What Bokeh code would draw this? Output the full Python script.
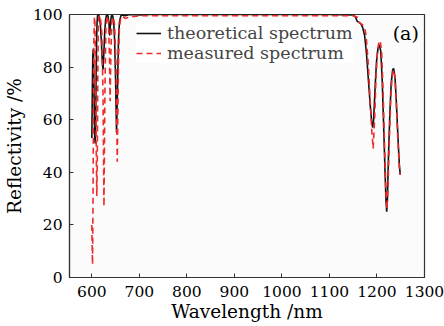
from bokeh.plotting import figure
from bokeh.models import ColumnDataSource, Label, Legend, LegendItem, Range1d
from bokeh.embed import file_html
from bokeh.resources import INLINE

# ---- data ----
theo_wl = [600, 601, 602, 603, 604, 605, 606, 607, 608, 609, 610, 611, 612, 614,
           616, 618, 620, 622, 623.5, 625, 627, 629, 631, 634, 636, 637.5, 639,
           641, 644, 646, 648, 650, 652, 654, 656, 658, 661, 665, 670, 680, 700,
           720, 800, 900, 1000, 1100, 1150, 1155, 1158, 1162, 1166, 1170, 1174,
           1178, 1182, 1186, 1189, 1191, 1193, 1196, 1199, 1202, 1205, 1208, 1211,
           1214, 1217, 1219, 1220.5, 1222, 1224, 1227, 1230, 1233, 1235, 1238,
           1241, 1244, 1247, 1249]
theo_r = [53, 70, 84, 87, 80, 65, 54, 51, 58, 75, 90, 97, 99.5, 100,
          99, 96, 90, 82, 79, 84, 93, 98, 99.8, 99.5, 97, 92, 96,
          99.5, 99.5, 97, 90, 75, 55, 72, 90, 97, 99.5, 99.8, 99.5, 100, 99.8,
          100, 100, 100, 100, 100, 99.8, 99, 97.5, 97, 96.5, 95, 92,
          85, 75, 65, 59, 57, 60, 72, 82, 87, 88.5, 86, 75,
          58, 40, 29, 25, 30, 45, 62, 74, 79, 79.5, 76,
          66, 54, 43, 39]

meas_wl = [600, 601, 601.5, 602.5, 603.5, 604.5, 605.5, 606.5, 608, 609.5, 610.5,
           611.5, 612.5, 613.5, 615, 618, 621, 623.5, 625.5, 627.5, 629.5, 632,
           635, 637, 638.5, 640, 642, 645, 648, 651, 653.5, 656, 658, 661, 665,
           670, 680, 700, 750, 850, 950, 1050, 1150, 1158, 1162, 1166, 1170, 1174,
           1177, 1181, 1185, 1189, 1192, 1195, 1198, 1201, 1204, 1207, 1210, 1213,
           1216, 1219, 1221, 1223, 1226, 1229, 1232, 1235, 1238, 1241, 1244, 1247,
           1249]
meas_r = [20, 8, 5, 30, 70, 92, 99, 97, 75, 45, 31,
          45, 75, 95, 99.5, 99, 93, 70, 27, 70, 95, 99.5,
          97, 85, 67, 85, 97, 99, 96, 80, 44, 80, 95, 99, 99.3,
          98.5, 99, 99.5, 99.5, 99.5, 99.5, 99.5, 99.5, 99, 97, 96.5, 96, 95,
          92, 83, 70, 56, 49, 60, 76, 86, 89.5, 90, 85, 70,
          50, 32, 26, 33, 52, 68, 77, 79, 76, 65, 52, 42,
          39]

x_ticks = [600, 700, 800, 900, 1000, 1100, 1200, 1300]
y_ticks = [0, 20, 40, 60, 80, 100]
series_names = ["theoretical spectrum", "measured spectrum"]
x_label = "Wavelength /nm"
y_label = "Reflectivity /%"
panel_tag = "(a)"

FONT = "DejaVu Serif"

p = figure(width=444, height=325, output_backend="svg", toolbar_location=None,
           x_range=Range1d(553, 1300), y_range=Range1d(0, 100),
           min_border_left=67, min_border_right=20, min_border_top=14,
           min_border_bottom=48)
p.background_fill_color = "#fbfbfb"
p.border_fill_color = "white"
p.outline_line_color = "#333333"
p.outline_line_width = 1.2
p.xgrid.visible = False
p.ygrid.visible = False

src_t = ColumnDataSource(dict(x=theo_wl, y=theo_r))
src_m = ColumnDataSource(dict(x=meas_wl, y=meas_r))
r_t = p.line("x", "y", source=src_t, line_color="#111111", line_width=1.6)
r_m = p.line("x", "y", source=src_m, line_color="#ee2a2a", line_width=1.6,
             line_dash="6 4")

for ax in (p.xaxis[0], p.yaxis[0]):
    ax.axis_line_color = "#333333"
    ax.axis_line_width = 1.2
    ax.major_tick_in = 4
    ax.major_tick_out = 0
    ax.minor_tick_line_color = None
    ax.major_tick_line_color = "#333333"
    ax.major_label_text_font = FONT
    ax.major_label_text_font_size = "15.5px"
    ax.major_label_text_color = "black"
    ax.axis_label_text_font = FONT
    ax.axis_label_text_font_style = "normal"
    ax.axis_label_text_color = "black"

p.xaxis.ticker = x_ticks
p.yaxis.ticker = y_ticks
p.xaxis.axis_label = x_label
p.yaxis.axis_label = y_label
p.xaxis.axis_label_text_font_size = "18.5px"
p.yaxis.axis_label_text_font_size = "18.5px"
p.xaxis.major_label_standoff = 8
p.xaxis.axis_label_standoff = 1
p.yaxis.major_label_standoff = 7
p.yaxis.axis_label_standoff = 5

legend = Legend(items=[LegendItem(label=series_names[0], renderers=[r_t]),
                       LegendItem(label=series_names[1], renderers=[r_m])],
                location=(67, 214), margin=0, padding=6, spacing=0,
                label_text_font=FONT, label_text_font_size="17.5px",
                label_height=20, glyph_height=20, glyph_width=25,
                label_standoff=6, border_line_color=None,
                background_fill_color="white", background_fill_alpha=1.0)
p.add_layout(legend)

p.add_layout(Label(x=1288, y=93, text=panel_tag, text_font=FONT,
                   text_font_size="19px", text_align="right",
                   text_baseline="middle", text_color="black"))

open("out.html", "w").write(file_html(p, INLINE))
